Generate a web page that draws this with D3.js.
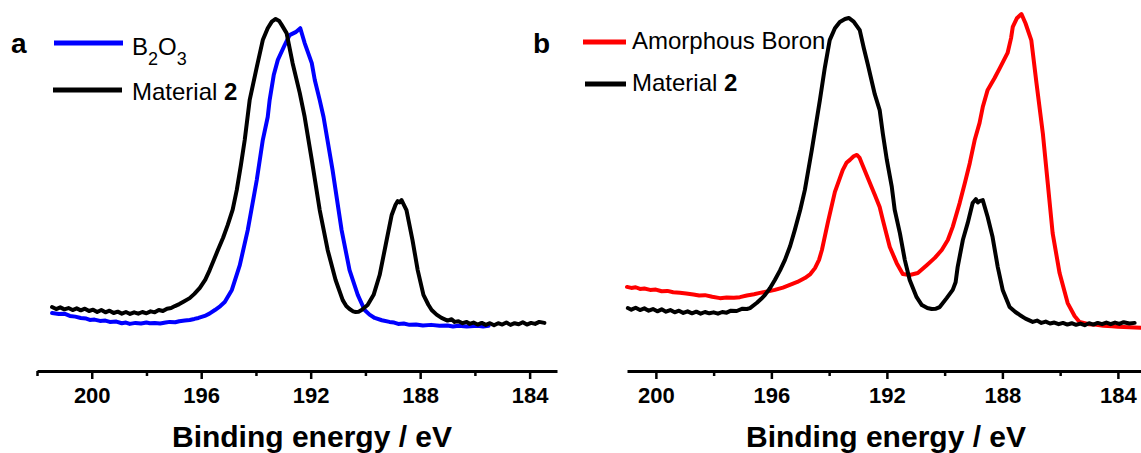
<!DOCTYPE html>
<html>
<head>
<meta charset="utf-8">
<script src="https://cdn.jsdelivr.net/npm/d3@7"></script>
<style>
  body { margin: 0; background: #fff; }
  svg { font-family: "Liberation Sans", Arial, sans-serif; }
</style>
</head>
<body>
<div id="chart"></div>
<script>
// XPS B1s spectra, [binding energy eV, intensity a.u.]
var b2o3 = [[201.45,97],[201.2,94],[201.0,95],[200.80,88],[200.6,86],[200.4,82],[200.2,80],[200.07,76],[199.9,77],[199.7,73],[199.5,74],[199.34,70],[199.1,71],[198.9,66],[198.75,68],[198.61,64],[198.4,67],[198.2,65],[198.0,68],[197.88,66],[197.7,67],[197.5,65],[197.3,68],[197.15,70],[196.95,69],[196.8,72],[196.6,74],[196.42,76],[196.25,79],[196.1,82],[195.87,88],[195.70,95],[195.50,106],[195.30,118],[195.14,130],[194.88,167],[194.59,242],[194.30,348],[193.97,500],[193.75,621],[193.57,691],[193.50,742],[193.35,818],[193.20,864],[192.95,909],[192.77,939],[192.55,948],[192.38,960],[192.22,915],[191.96,854],[191.85,803],[191.67,742],[191.53,691],[191.20,530],[190.87,348],[190.58,227],[190.28,152],[190.03,106],[189.85,92],[189.66,82],[189.4,75],[189.12,70],[188.95,68],[188.8,64],[188.6,65],[188.39,61],[188.15,62],[187.9,59],[187.6,61],[187.29,58],[187.0,59],[186.8,56],[186.6,58],[186.3,56],[185.9,58],[185.7,56],[185.50,58]];

var material2a = [[201.45,115],[201.3,109],[201.15,114],[201.0,108],[200.85,112],[200.7,106],[200.55,111],[200.4,105],[200.25,110],[200.1,103],[199.95,107],[199.8,100],[199.65,106],[199.5,99],[199.35,104],[199.2,97],[199.05,101],[198.9,95],[198.75,100],[198.6,94],[198.45,99],[198.3,95],[198.15,100],[198.0,96],[197.85,102],[197.7,99],[197.55,106],[197.4,103],[197.25,110],[197.1,112],[196.96,118],[196.8,124],[196.65,131],[196.42,142],[196.25,155],[196.05,173],[195.85,198],[195.69,227],[195.55,255],[195.39,288],[195.20,325],[195.03,364],[194.85,410],[194.70,470],[194.55,545],[194.41,621],[194.23,742],[193.97,842],[193.75,924],[193.57,960],[193.42,980],[193.28,988],[193.15,982],[193.06,970],[192.88,945],[192.66,854],[192.40,764],[192.22,691],[191.96,561],[191.67,409],[191.38,288],[191.09,197],[190.83,136],[190.70,118],[190.58,109],[190.45,102],[190.36,100],[190.25,101],[190.14,106],[189.92,121],[189.70,152],[189.48,212],[189.26,303],[189.04,394],[188.90,425],[188.82,436],[188.75,432],[188.68,439],[188.50,409],[188.28,318],[188.09,227],[187.88,152],[187.70,122],[187.58,106],[187.40,92],[187.22,82],[187.0,74],[186.85,78],[186.74,70],[186.6,72],[186.45,66],[186.3,70],[186.2,64],[186.05,68],[185.9,62],[185.75,67],[185.6,61],[185.45,66],[185.3,60],[185.15,66],[185.0,62],[184.85,68],[184.7,61],[184.55,66],[184.4,63],[184.25,69],[184.1,62],[183.95,67],[183.8,64],[183.65,70],[183.46,67]];

var boron = [[201.00,176],[200.85,173],[200.70,175],[200.55,170],[200.40,171],[200.20,167],[200.00,168],[199.80,163],[199.60,164],[199.40,160],[199.17,158],[198.95,156],[198.70,153],[198.50,150],[198.30,151],[198.05,146],[197.78,142],[197.55,144],[197.30,143],[197.09,145],[196.85,150],[196.60,154],[196.40,158],[196.15,162],[195.88,167],[195.60,174],[195.36,182],[195.10,191],[194.84,203],[194.65,215],[194.49,233],[194.35,258],[194.25,288],[194.04,373],[193.80,464],[193.53,530],[193.40,552],[193.28,561],[193.15,572],[193.04,576],[192.95,568],[192.87,551],[192.66,506],[192.42,455],[192.25,418],[192.14,379],[191.90,297],[191.66,248],[191.45,215],[191.21,212],[190.93,218],[190.62,242],[190.34,264],[190.10,288],[189.89,318],[189.72,358],[189.48,430],[189.30,491],[189.13,551],[188.96,621],[188.79,673],[188.68,721],[188.51,773],[188.27,809],[188.09,839],[187.82,885],[187.70,930],[187.64,964],[187.50,990],[187.34,1003],[187.20,975],[187.00,924],[186.82,794],[186.60,642],[186.43,491],[186.26,339],[186.02,218],[185.74,127],[185.50,88],[185.33,70],[185.0,63],[184.74,61],[184.5,58],[184.2,57],[184.00,55],[183.6,54],[183.21,52]];

var material2b = [[200.97,112],[200.85,107],[200.70,113],[200.55,106],[200.40,111],[200.25,104],[200.10,109],[199.95,102],[199.80,108],[199.65,101],[199.50,106],[199.35,99],[199.20,104],[199.05,97],[198.90,102],[198.75,96],[198.60,101],[198.45,95],[198.30,100],[198.15,96],[198.00,99],[197.85,95],[197.70,100],[197.55,98],[197.40,104],[197.20,103],[197.00,110],[196.85,109],[196.74,112],[196.50,128],[196.35,140],[196.22,152],[196.05,172],[195.88,197],[195.70,226],[195.53,258],[195.35,300],[195.19,348],[195.00,410],[194.84,470],[194.60,591],[194.32,742],[194.15,840],[193.98,924],[193.80,960],[193.63,979],[193.45,988],[193.32,991],[193.15,980],[192.94,954],[192.80,900],[192.66,850],[192.42,760],[192.25,712],[192.14,640],[192.00,560],[191.83,479],[191.73,410],[191.55,339],[191.38,258],[191.21,197],[190.97,145],[190.79,121],[190.60,112],[190.45,109],[190.30,110],[190.17,115],[189.93,142],[189.72,167],[189.62,190],[189.55,236],[189.37,318],[189.20,370],[189.03,430],[188.92,442],[188.85,432],[188.79,436],[188.68,439],[188.51,388],[188.34,327],[188.16,236],[187.99,167],[187.75,115],[187.55,100],[187.40,91],[187.20,80],[186.95,70],[186.80,74],[186.65,67],[186.50,71],[186.35,65],[186.20,68],[186.05,63],[185.90,67],[185.75,62],[185.60,66],[185.45,61],[185.30,65],[185.15,60],[185.00,66],[184.85,62],[184.70,67],[184.55,63],[184.40,68],[184.25,63],[184.10,68],[183.95,64],[183.80,69],[183.60,65],[183.42,67]];

var majorTicks = [200, 196, 192, 188, 184];
var minorTicksA = [202, 198, 194, 190, 186];
var minorTicksB = [198, 194, 190, 186];
var axisTitle = "Binding energy / eV";

var svgWidth = 1141;
var svgHeight = 453;
var axisY = 371;

var svg = d3.select("#chart")
	.append("svg")
	.attr("width", svgWidth)
	.attr("height", svgHeight);

var y = d3.scaleLinear()
	.domain([0, 1000])
	.range([345, 15]);

function drawPanel(opts){
	var x = d3.scaleLinear()
		.domain(opts.domain)
		.range(opts.range);

	var line = d3.line()
		.x(function(d){ return x(d[0]); })
		.y(function(d){ return y(d[1]); });

	var g = svg.append("g");

	opts.series.forEach(function(s){
		g.append("path")
			.datum(s.data)
			.attr("d", line)
			.attr("fill", "none")
			.attr("stroke", s.color)
			.attr("stroke-width", 4)
			.attr("stroke-linejoin", "round")
			.attr("stroke-linecap", "round");
	});

	// minor ticks
	var minor = g.append("g")
		.attr("transform", "translate(0," + axisY + ")")
		.call(d3.axisBottom(x).tickValues(opts.minor).tickSize(5).tickSizeOuter(0).tickFormat(""));
	minor.select(".domain").remove();
	minor.selectAll("line").attr("stroke-width", 2.5);

	var axis = g.append("g")
		.attr("transform", "translate(0," + axisY + ")")
		.call(d3.axisBottom(x).tickValues(majorTicks).tickSize(8).tickSizeOuter(0).tickFormat(d3.format("d")));
	axis.select(".domain").attr("stroke-width", 3);
	axis.selectAll(".tick line").attr("stroke-width", 2.5);
	axis.selectAll("text")
		.attr("y", 16)
		.attr("dy", "0.71em")
		.style("font-size", "22px")
		.style("font-weight", "bold")
		.style("font-family", "Liberation Sans, Arial, sans-serif")
		.attr("fill", "#000");

	g.append("text")
		.attr("x", (opts.range[0] + opts.range[1]) / 2 + opts.titleShift)
		.attr("y", 447)
		.attr("text-anchor", "middle")
		.style("font-size", "30px")
		.style("font-weight", "bold")
		.text(axisTitle);

	g.append("text")
		.attr("x", opts.letterX)
		.attr("y", 53)
		.style("font-size", "28px")
		.style("font-weight", "bold")
		.text(opts.letter);
}

drawPanel({
	domain: [202, 183],
	range: [37, 557],
	minor: minorTicksA,
	titleShift: 15,
	letter: "a",
	letterX: 11,
	series: [{data: b2o3, color: "#0000ff"}, {data: material2a, color: "#000"}]
});

drawPanel({
	domain: [201, 183.2],
	range: [627, 1141],
	minor: minorTicksB,
	titleShift: 2,
	letter: "b",
	letterX: 533,
	series: [{data: boron, color: "#ff0000"}, {data: material2b, color: "#000"}]
});

//Legend panel a
svg.append("line").attr("x1", 54).attr("x2", 123).attr("y1", 43).attr("y2", 43)
	.attr("stroke", "#0000ff").attr("stroke-width", 5);
svg.append("line").attr("x1", 53).attr("x2", 122).attr("y1", 90).attr("y2", 90)
	.attr("stroke", "#000").attr("stroke-width", 5);

var b2o3Label = svg.append("text")
	.attr("x", 132)
	.attr("y", 55)
	.style("font-size", "24px");
b2o3Label.append("tspan").text("B");
b2o3Label.append("tspan").attr("dy", 10).style("font-size", "18px").text("2");
b2o3Label.append("tspan").attr("dy", -10).text("O");
b2o3Label.append("tspan").attr("dy", 10).style("font-size", "18px").text("3");

var matA = svg.append("text")
	.attr("x", 132)
	.attr("y", 100)
	.style("font-size", "24px");
matA.append("tspan").text("Material ");
matA.append("tspan").style("font-weight", "bold").text("2");

//Legend panel b
svg.append("line").attr("x1", 583).attr("x2", 626).attr("y1", 42).attr("y2", 42)
	.attr("stroke", "#ff0000").attr("stroke-width", 5);
svg.append("line").attr("x1", 585).attr("x2", 626).attr("y1", 84).attr("y2", 84)
	.attr("stroke", "#000").attr("stroke-width", 5);

svg.append("text")
	.attr("x", 632)
	.attr("y", 49)
	.style("font-size", "24px")
	.text("Amorphous Boron");

var matB = svg.append("text")
	.attr("x", 632)
	.attr("y", 91)
	.style("font-size", "24px");
matB.append("tspan").text("Material ");
matB.append("tspan").style("font-weight", "bold").text("2");
</script>
</body>
</html>
